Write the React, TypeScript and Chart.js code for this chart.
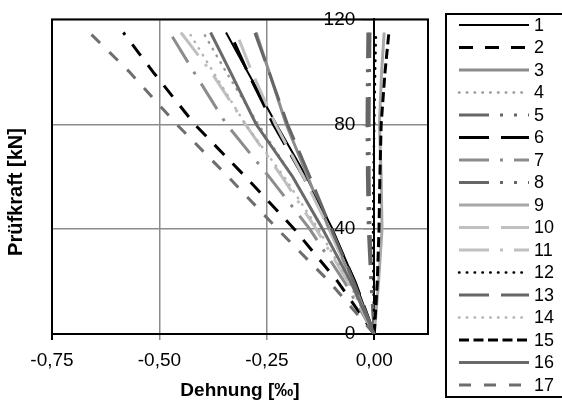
import React, { useEffect, useRef } from "react";
import { Chart, registerables } from "chart.js";

Chart.register(...registerables);

const FONT = "'Liberation Sans', Arial, sans-serif";

// Prüfkraft levels [kN] at which the strains were read
const forces = [0, 20, 40, 60, 80, 100, 115];

// Dehnung [‰] per measuring point
const strain01 = [0, -0.045, -0.097, -0.158, -0.228, -0.295, -0.345];
const strain02 = [0, -0.085, -0.186, -0.3, -0.418, -0.515, -0.584];
const strain03 = [0, -0.05, -0.105, -0.155, -0.205, -0.245, -0.275];
const strain04 = [0, -0.055, -0.12, -0.19, -0.27, -0.345, -0.398];
const strain05 = [0, -0.006, -0.01, -0.012, -0.012, -0.011, -0.01];
const strain06 = [0, -0.045, -0.1, -0.165, -0.235, -0.295, -0.336];
const strain07 = [0, -0.07, -0.15, -0.245, -0.344, -0.42, -0.476];
const strain08 = [0, -0.008, -0.014, -0.016, -0.017, -0.016, -0.015];
const strain09 = [0, 0.01, 0.018, 0.016, 0.012, 0.017, 0.023];
const strain10 = [0, -0.05, -0.105, -0.165, -0.23, -0.285, -0.321];
const strain11 = [0, -0.062, -0.135, -0.215, -0.3, -0.38, -0.45];
const strain12 = [0, -0.002, -0.003, -0.002, 0.0, 0.002, 0.004];
const strain13 = [0, -0.048, -0.1, -0.15, -0.202, -0.245, -0.278];
const strain14 = [0, -0.06, -0.13, -0.21, -0.3, -0.375, -0.431];
const strain15 = [0, 0.007, 0.011, 0.013, 0.016, 0.025, 0.034];
const strain16 = [0, -0.055, -0.12, -0.19, -0.275, -0.335, -0.381];
const strain17 = [0, -0.105, -0.225, -0.34, -0.46, -0.57, -0.663];

const seriesLabels = ["1", "2", "3", "4", "5", "6", "7", "8", "9", "10", "11", "12", "13", "14", "15", "16", "17"];
const strains = [strain01, strain02, strain03, strain04, strain05, strain06, strain07, strain08, strain09, strain10, strain11, strain12, strain13, strain14, strain15, strain16, strain17];

const xTicks = [-0.75, -0.5, -0.25, 0];
const yTicks = [0, 40, 80, 120];

const BLACK = "#000000";
const DARK = "#666666";
const MID = "#8c8c8c";
const LIGHT = "#b4b4b4";
const LIGHTER = "#c0c0c0";

type Style = { color: string; dash: number[]; width: number; cap: CanvasLineCap };
const styles: Style[] = [
  { color: BLACK, dash: [], width: 2, cap: "butt" },
  { color: BLACK, dash: [14, 12], width: 3, cap: "butt" },
  { color: MID, dash: [], width: 3, cap: "butt" },
  { color: "#9a9a9a", dash: [0.5, 7.3], width: 2.5, cap: "round" },
  { color: DARK, dash: [30, 11, 3, 11, 3, 11], width: 3, cap: "butt" },
  { color: BLACK, dash: [30, 12], width: 3, cap: "butt" },
  { color: MID, dash: [30, 11, 3, 11], width: 3, cap: "butt" },
  { color: DARK, dash: [30, 11, 3, 11, 3, 11], width: 3, cap: "butt" },
  { color: "#a8a8a8", dash: [], width: 3, cap: "butt" },
  { color: LIGHTER, dash: [30, 12], width: 3, cap: "butt" },
  { color: LIGHTER, dash: [30, 11, 3, 11], width: 3, cap: "butt" },
  { color: BLACK, dash: [0.5, 7.3], width: 2.5, cap: "round" },
  { color: DARK, dash: [30, 12], width: 3, cap: "butt" },
  { color: LIGHT, dash: [0.5, 7.3], width: 2.5, cap: "round" },
  { color: BLACK, dash: [10, 4.5], width: 3, cap: "butt" },
  { color: "#6a6a6a", dash: [], width: 3, cap: "butt" },
  { color: "#6e6e6e", dash: [12, 13], width: 3, cap: "butt" },
];

const fmt = (v: number) => v.toFixed(2).replace(".", ",");

const framePlugin = {
  id: "frame",
  beforeDatasetsDraw(chart: any) {
    const { ctx, chartArea } = chart;
    ctx.save();
    ctx.strokeStyle = "#000";
    ctx.lineWidth = 2;
    ctx.strokeRect(chartArea.left, chartArea.top, chartArea.right - chartArea.left, chartArea.bottom - chartArea.top);
    ctx.restore();
  },
};

const yTitlePlugin = {
  id: "yTitle",
  afterDraw(chart: any) {
    const { ctx } = chart;
    ctx.save();
    ctx.translate(16, 192);
    ctx.rotate(-Math.PI / 2);
    ctx.font = `bold 20px ${FONT}`;
    ctx.fillStyle = "#000";
    ctx.textAlign = "center";
    ctx.textBaseline = "middle";
    ctx.fillText("Prüfkraft [kN]", 0, 0);
    ctx.restore();
  },
};

const legendPlugin = {
  id: "customLegend",
  afterDraw(chart: any) {
    const { ctx } = chart;
    ctx.save();
    ctx.strokeStyle = "#000";
    ctx.lineWidth = 2;
    ctx.strokeRect(446, 14, 160, 383);
    chart.data.datasets.forEach((ds: any, i: number) => {
      const y = 25 + i * 22.5;
      ctx.save();
      ctx.strokeStyle = ds.borderColor;
      ctx.lineWidth = ds.borderWidth;
      ctx.lineCap = ds.borderCapStyle;
      ctx.setLineDash(ds.borderDash);
      ctx.beginPath();
      ctx.moveTo(459, y);
      ctx.lineTo(529, y);
      ctx.stroke();
      ctx.restore();
      ctx.font = `18px ${FONT}`;
      ctx.fillStyle = "#000";
      ctx.textAlign = "left";
      ctx.textBaseline = "middle";
      ctx.fillText(ds.label, 534, y + 1);
    });
    ctx.restore();
  },
};

export default function App() {
  const ref = useRef<HTMLCanvasElement | null>(null);

  useEffect(() => {
    if (!ref.current) return;
    const datasets = strains.map((arr, i) => ({
      label: seriesLabels[i],
      data: arr.map((x, j) => ({ x, y: forces[j] })),
      showLine: true,
      borderColor: styles[i].color,
      backgroundColor: styles[i].color,
      borderWidth: styles[i].width,
      borderDash: styles[i].dash,
      borderCapStyle: styles[i].cap,
      pointRadius: 0,
      tension: 0,
      fill: false,
      order: 17 - i,
    }));

    const chart = new Chart(ref.current, {
      type: "scatter",
      data: { datasets },
      options: {
        animation: false,
        responsive: false,
        layout: { padding: { left: 52, top: 19, right: 134, bottom: 0.6 } },
        plugins: { legend: { display: false }, tooltip: { enabled: false } },
        scales: {
          x: {
            type: "linear",
            position: "bottom",
            min: -0.75,
            max: 0.125,
            afterBuildTicks: (s: any) => {
              s.ticks = xTicks.map((v) => ({ value: v }));
            },
            ticks: {
              callback: (v: any) => fmt(Number(v)),
              font: { family: FONT, size: 19 },
              color: "#000",
              padding: 9,
              autoSkip: false,
              maxRotation: 0,
            },
            grid: {
              color: (c: any) =>
                c.tick && (Math.abs(c.tick.value + 0.75) < 1e-9 || Math.abs(c.tick.value) < 1e-9) ? "#000" : "#8c8c8c",
              lineWidth: (c: any) =>
                c.tick && (Math.abs(c.tick.value + 0.75) < 1e-9 || Math.abs(c.tick.value) < 1e-9) ? 2 : 1.5,
              tickLength: 6,
            },
            border: { color: "#000", width: 2 },
            title: {
              display: true,
              text: "Dehnung [‰]",
              font: { family: FONT, size: 19, weight: "bold" },
              color: "#000",
              padding: { top: -1.2, bottom: 0 },
            },
          },
          y: {
            type: "linear",
            position: { x: 0 } as any,
            min: 0,
            max: 120,
            afterBuildTicks: (s: any) => {
              s.ticks = yTicks.map((v) => ({ value: v }));
            },
            ticks: {
              callback: (v: any) => String(v) + "\u2002\u2002",
              font: { family: FONT, size: 19 },
              color: "#000",
              padding: 8,
            },
            grid: { color: "#8c8c8c", lineWidth: 1.5, tickLength: 10 },
            border: { color: "#000", width: 2 },
          },
        },
      },
      plugins: [framePlugin, yTitlePlugin, legendPlugin],
    } as any);
    return () => chart.destroy();
  }, []);

  return (
    <div style={{ position: "absolute", left: 0, top: 0, width: 562, height: 403, background: "#fff" }}>
      <canvas ref={ref} width={562} height={403} />
    </div>
  );
}
